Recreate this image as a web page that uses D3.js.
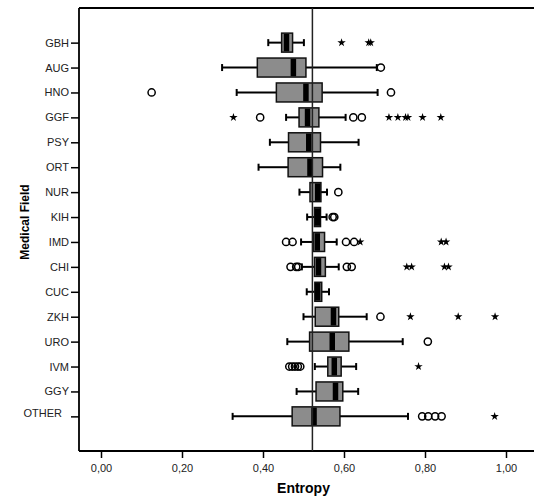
<!DOCTYPE html>
<html>
<head>
<meta charset="utf-8">
<script src="https://cdn.jsdelivr.net/npm/d3@7"></script>
<style>
  body { margin: 0; background: #fff; }
  svg { display: block; }
  text { font-family: "Liberation Sans", Arial, sans-serif; }
</style>
</head>
<body>
<svg id="chart" width="534" height="497"></svg>
<script>
// ---- data ----
const categories = ["GBH","AUG","HNO","GGF","PSY","ORT","NUR","KIH","IMD","CHI","CUC","ZKH","URO","IVM","GGY","OTHER"];
const whiskerLow  = [0.413,0.299,0.335,0.457,0.417,0.389,0.490,0.509,0.494,0.496,0.508,0.500,0.460,0.528,0.483,0.325];
const q1          = [0.446,0.386,0.433,0.489,0.463,0.462,0.516,0.527,0.524,0.527,0.528,0.529,0.515,0.560,0.531,0.472];
const medians     = [0.458,0.475,0.506,0.510,0.513,0.516,0.535,0.535,0.534,0.537,0.535,0.574,0.571,0.576,0.579,0.526];
const q3          = [0.473,0.506,0.546,0.538,0.542,0.547,0.543,0.542,0.552,0.554,0.545,0.587,0.612,0.593,0.597,0.590];
const whiskerHigh = [0.501,0.681,0.683,0.604,0.636,0.591,0.558,0.557,0.582,0.587,0.563,0.656,0.745,0.630,0.635,0.758];
const outliers = [
  [],
  [0.691],
  [0.125,0.716],
  [0.393,0.623,0.644],
  [],
  [],
  [0.586],
  [0.572,0.576],
  [0.457,0.473,0.605,0.625],
  [0.468,0.482,0.487,0.607,0.619],
  [],
  [0.690],
  [0.807],
  [0.465,0.472,0.479,0.486,0.492],
  [],
  [0.793,0.808,0.825,0.841]
];
const extremes = [
  [0.594,0.661,0.666],
  [],
  [],
  [0.327,0.711,0.733,0.752,0.758,0.794,0.839],
  [],
  [],
  [],
  [],
  [0.640,0.840,0.852],
  [0.755,0.767,0.848,0.858],
  [],
  [0.764,0.882,0.973],
  [],
  [0.784],
  [],
  [0.972]
];
const xTicks = [0, 0.2, 0.4, 0.6, 0.8, 1.0];
const referenceValue = 0.522;

// ---- layout ----
const svg = d3.select("#chart");
const frameLeft = 79, frameTop = 8, frameBottom = 451, frameRight = 534;

const x = d3.scaleLinear().domain([0, 1]).range([101, 506]);
const y = d3.scalePoint().domain(categories).range([frameTop, frameBottom]).padding(1.39);

const boxH = 19, capH = 7, medW = 5.5;

// frame
svg.append("line").attr("x1", frameLeft).attr("x2", frameRight).attr("y1", frameTop).attr("y2", frameTop)
  .attr("stroke", "#000").attr("stroke-width", 1.8);
svg.append("line").attr("x1", frameLeft).attr("x2", frameLeft).attr("y1", frameTop).attr("y2", frameBottom)
  .attr("stroke", "#000").attr("stroke-width", 1.8);

// x axis
const xAxis = d3.axisBottom(x).tickValues(xTicks)
  .tickFormat(d => d3.format(".2f")(d).replace(".", ","))
  .tickSize(7).tickPadding(6);
const gx = svg.append("g").attr("transform", `translate(0,${frameBottom})`).call(xAxis);
gx.select(".domain").remove();
gx.selectAll(".tick line").attr("stroke", "#000").attr("stroke-width", 1.5);
gx.selectAll(".tick text").attr("font-size", 11).attr("fill", "#222")
  .attr("font-family", "'Liberation Sans', Arial, sans-serif");
svg.append("line").attr("x1", frameLeft).attr("x2", frameRight).attr("y1", frameBottom).attr("y2", frameBottom)
  .attr("stroke", "#000").attr("stroke-width", 1.8);

// y axis
const yAxis = d3.axisLeft(y).tickSize(8).tickPadding(2);
const gy = svg.append("g").attr("transform", `translate(${frameLeft},0)`).call(yAxis);
gy.select(".domain").remove();
gy.selectAll(".tick line").attr("stroke", "#000").attr("stroke-width", 1.5);
gy.selectAll(".tick text").attr("font-size", 11).attr("fill", "#222")
  .attr("font-family", "'Liberation Sans', Arial, sans-serif");
gy.selectAll(".tick").filter(d => d === "OTHER").select("text")
  .attr("dx", -7).attr("dy", "0.05em");

// boxes
const g = svg.append("g");
categories.forEach((c, i) => {
  const cy = y(c);
  // whiskers
  g.append("line").attr("x1", x(whiskerLow[i])).attr("x2", x(q1[i])).attr("y1", cy).attr("y2", cy)
    .attr("stroke", "#000").attr("stroke-width", 2);
  g.append("line").attr("x1", x(q3[i])).attr("x2", x(whiskerHigh[i])).attr("y1", cy).attr("y2", cy)
    .attr("stroke", "#000").attr("stroke-width", 2);
  [whiskerLow[i], whiskerHigh[i]].forEach(v => {
    g.append("line").attr("x1", x(v)).attr("x2", x(v)).attr("y1", cy - capH / 2).attr("y2", cy + capH / 2)
      .attr("stroke", "#000").attr("stroke-width", 2);
  });
  // box
  g.append("rect").attr("x", x(q1[i])).attr("y", cy - boxH / 2)
    .attr("width", x(q3[i]) - x(q1[i])).attr("height", boxH)
    .attr("fill", "#8c8c8c").attr("stroke", "#111").attr("stroke-width", 1.5);
  // median
  g.append("rect").attr("x", x(medians[i]) - medW / 2).attr("y", cy - boxH / 2 + 0.75)
    .attr("width", medW).attr("height", boxH - 1.5).attr("fill", "#000");
  // outliers
  outliers[i].forEach(v => {
    g.append("circle").attr("cx", x(v)).attr("cy", cy).attr("r", 3.6)
      .attr("fill", "none").attr("stroke", "#000").attr("stroke-width", 1.5);
  });
  // extremes
  extremes[i].forEach(v => {
    g.append("path").attr("d", d3.symbol().type(d3.symbolStar).size(22)())
      .attr("transform", `translate(${x(v)},${cy})`).attr("fill", "#000");
  });
});

// reference line
svg.append("line").attr("x1", x(referenceValue)).attr("x2", x(referenceValue))
  .attr("y1", frameTop).attr("y2", frameBottom).attr("stroke", "#222").attr("stroke-width", 1.5);

// axis titles
svg.append("text").attr("x", x(0.5)).attr("y", 493).attr("text-anchor", "middle")
  .attr("font-size", 14).attr("font-weight", "bold").attr("fill", "#000").text("Entropy");
svg.append("text").attr("transform", "translate(29,222) rotate(-90)").attr("text-anchor", "middle")
  .attr("font-size", 12).attr("font-weight", "bold").attr("fill", "#000").text("Medical Field");
</script>
</body>
</html>
